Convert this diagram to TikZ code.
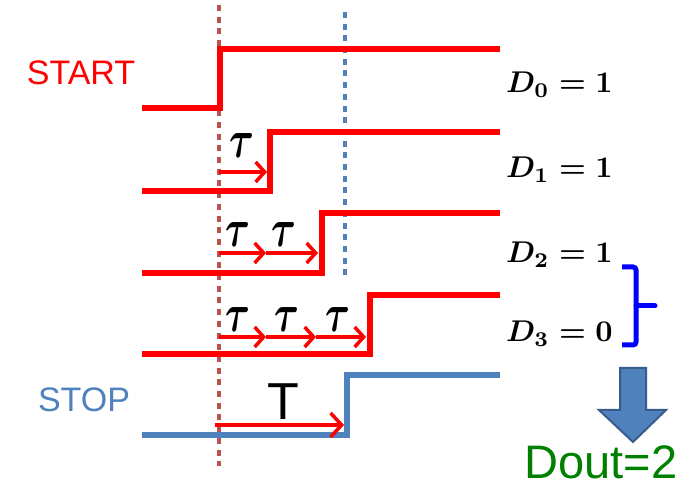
\documentclass[tikz,border=0pt]{standalone}
\usepackage{fontspec}
\usepackage{graphicx}
\newfontfamily\arialf{Liberation Sans}
\usetikzlibrary{arrows.meta}
\definecolor{sred}{HTML}{FF0000}
\definecolor{sblue}{HTML}{4F81BD}
\definecolor{sbluedark}{HTML}{385D8A}
\definecolor{sbrown}{HTML}{B85450}
\definecolor{bracecol}{HTML}{0000FF}
\definecolor{sgreen}{HTML}{008000}
\newcommand\tausym{\scalebox{3.8}[5.4]{\boldmath$\tau$}}
\newcommand\dlabel[2]{\scalebox{3}{\boldmath$D_{#1} = #2$}}
\begin{document}
\begin{tikzpicture}[x=1pt,y=-1pt,
  wave/.style={line width=6pt,line join=miter,line cap=butt},
  redwave/.style={wave,draw=sred},
  bluewave/.style={wave,draw=sblue},
  vdots/.style={line width=4pt,dash pattern=on 6pt off 5.7pt},
  tauarrow/.style={draw=sred,line width=3.5pt,-{Straight Barb[length=9pt,width=20pt,line width=3.5pt]}},
  bigarrow/.style={draw=sred,line width=3.5pt,-{Straight Barb[length=11pt,width=24pt,line width=3.5pt]}},
  taulbl/.style={inner sep=0pt,font=\normalsize},
  dlbl/.style={anchor=base west,inner sep=0pt,font=\normalsize},
  siglbl/.style={inner sep=0pt,font=\arialf\fontsize{34}{36}\selectfont}
]
\useasboundingbox (0,0) rectangle (697,486);

% dotted reference lines
\coordinate (brtop) at (219,5);
\coordinate (brbot) at (219,466);
\coordinate (bltop) at (345,12);
\coordinate (blbot) at (345,279);
\draw[vdots,draw=sbrown] (brtop) -- (brbot);
\draw[vdots,draw=sblue] (bltop) -- (blbot);

% waveforms
\draw[redwave] (142,108) -- (220,108) -- (220,49) -- (500,49);
\draw[redwave] (142,191) -- (270,191) -- (270,132) -- (500,132);
\draw[redwave] (142,273) -- (322,273) -- (322,213) -- (500,213);
\draw[redwave] (142,354) -- (370,354) -- (370,295) -- (500,295);
\draw[bluewave] (142,435) -- (347,435) -- (347,375) -- (500,375);

% tau arrows
\coordinate (a10) at (219,172); \coordinate (a11) at (267,172);
\draw[tauarrow] (a10) -- (a11);
\coordinate (a20) at (219,253); \coordinate (a21) at (266,253); \coordinate (a22) at (318,253);
\draw[tauarrow] (a20) -- (a21);
\draw[tauarrow] (a21) -- (a22);
\coordinate (a30) at (219,337); \coordinate (a31) at (266,337); \coordinate (a32) at (316,337); \coordinate (a33) at (366,337);
\draw[tauarrow] (a30) -- (a31);
\draw[tauarrow] (a31) -- (a32);
\draw[tauarrow] (a32) -- (a33);

% T arrow
\coordinate (t0) at (215,425); \coordinate (t1) at (344,425);
\draw[bigarrow] (t0) -- (t1);

% tau labels
\node[taulbl] (tau1) at (242,146) {\tausym};
\node[taulbl] (tau21) at (238,235) {\tausym};
\node[taulbl] (tau22) at (284,235) {\tausym};
\node[taulbl] (tau31) at (238,320) {\tausym};
\node[taulbl] (tau32) at (287,320) {\tausym};
\node[taulbl] (tau33) at (338,320) {\tausym};
\node[inner sep=0pt,font=\arialf\fontsize{52}{54}\selectfont] (Tlbl) at (283,402) {T};

% signal labels
\node[siglbl,text=sred] (start) at (81,73) {START};
\node[siglbl,text=sblue] (stop) at (84,400) {STOP};

% D labels
\node[dlbl] (d0) at (506,93) {\dlabel{0}{1}};
\node[dlbl] (d1) at (506,178) {\dlabel{1}{1}};
\node[dlbl] (d2) at (506,263) {\dlabel{2}{1}};
\node[dlbl] (d3) at (506,342) {\dlabel{3}{0}};

% brace
\draw[draw=bracecol,line width=5pt,rounded corners=3pt,line cap=butt]
  (622,267) -- (636,267) -- (636,345) -- (622,345);
\draw[draw=bracecol,line width=5pt,line cap=round] (636,306) -- (655,306);

% down arrow
\draw[fill=sblue,draw=sbluedark,line width=2pt,line join=miter]
  (620,368) -- (646,368) -- (646,410) -- (666,410) -- (633,442) -- (599,410) -- (620,410) -- cycle;

% Dout
\node[inner sep=0pt,anchor=base,font=\arialf\fontsize{47}{50}\selectfont,text=sgreen] (dout) at (601,479) {Dout=2};
\end{tikzpicture}
\end{document}
